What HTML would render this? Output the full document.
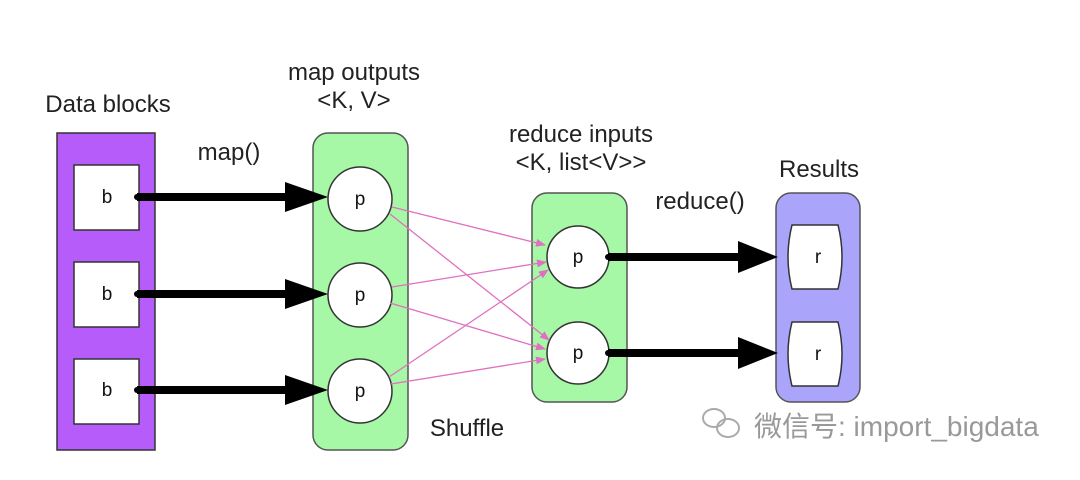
<!DOCTYPE html>
<html><head><style>body{margin:0;background:#fff}</style></head><body>
<svg width="1080" height="475" xmlns="http://www.w3.org/2000/svg" font-family="Liberation Sans, sans-serif">
<defs>
<marker id="pk" markerWidth="10" markerHeight="8" refX="9" refY="4" orient="auto" markerUnits="userSpaceOnUse"><path d="M0,0 L10,4 L0,8z" fill="#e070c0"/></marker>
</defs>
<rect x="57" y="133" width="98" height="317" fill="#b65cfb" stroke="#333" stroke-width="1.5"/>
<g fill="#fff" stroke="#333" stroke-width="1.5">
<rect x="74" y="165" width="65" height="65"/><rect x="74" y="262" width="65" height="65"/><rect x="74" y="359" width="65" height="65"/>
</g>
<rect x="313" y="133" width="95" height="317" rx="15" fill="#a6f7a6" stroke="#555" stroke-width="1.5"/>
<rect x="532" y="193" width="95" height="209" rx="15" fill="#a6f7a6" stroke="#555" stroke-width="1.5"/>
<rect x="776" y="193" width="84" height="209" rx="15" fill="#aaa5fb" stroke="#555" stroke-width="1.5"/>
<g fill="#fff" stroke="#333" stroke-width="1.5">
<circle cx="360" cy="199" r="32"/><circle cx="360" cy="295" r="32"/><circle cx="360" cy="391" r="32"/>
<circle cx="578" cy="257" r="31"/><circle cx="578" cy="353" r="31"/>
<path d="M792,225 H838 Q846,257 838,289 H792 Q784,257 792,225z"/>
<path d="M792,322 H838 Q846,354 838,386 H792 Q784,354 792,322z"/>
</g>
<g stroke="#e070c0" stroke-width="1.3" marker-end="url(#pk)">
<line x1="392" y1="207" x2="545" y2="245"/>
<line x1="390" y1="214" x2="549" y2="340"/>
<line x1="392" y1="287" x2="546" y2="262"/>
<line x1="390" y1="303" x2="545" y2="349"/>
<line x1="389" y1="377" x2="548" y2="270"/>
<line x1="391" y1="384" x2="545" y2="359"/>
</g>
<g fill="#000">
<circle cx="137" cy="197" r="3"/><rect x="137" y="193" width="158" height="8"/><path d="M285,182 L328,197 L285,212z"/>
<circle cx="137" cy="294" r="3"/><rect x="137" y="290" width="158" height="8"/><path d="M285,279 L328,294 L285,309z"/>
<circle cx="137" cy="390" r="3"/><rect x="137" y="386" width="158" height="8"/><path d="M285,375 L328,390 L285,405z"/>
<circle cx="608" cy="257" r="3"/><rect x="608" y="253" width="140" height="8"/><path d="M738,241 L778,257 L738,273z"/>
<circle cx="608" cy="353" r="3"/><rect x="608" y="349" width="140" height="8"/><path d="M738,337 L778,353 L738,369z"/>
</g>
<g font-size="19" fill="#111" text-anchor="middle">
<text x="107" y="203">b</text><text x="107" y="300">b</text><text x="107" y="396">b</text>
<text x="360" y="205">p</text><text x="360" y="301">p</text><text x="360" y="397">p</text>
<text x="578" y="263">p</text><text x="578" y="359">p</text>
<text x="818" y="263">r</text><text x="818" y="360">r</text>
</g>
<g font-size="24" fill="#222" text-anchor="middle">
<text x="108" y="112">Data blocks</text>
<text x="354" y="80">map outputs</text>
<text x="354" y="108">&lt;K, V&gt;</text>
<text x="229" y="160">map()</text>
<text x="581" y="142">reduce inputs</text>
<text x="581" y="170">&lt;K, list&lt;V&gt;&gt;</text>
<text x="819" y="177">Results</text>
<text x="700" y="209">reduce()</text>
<text x="467" y="436">Shuffle</text>
</g>
<g fill="none" stroke="#aaa" stroke-width="2">
<ellipse cx="714" cy="418" rx="11" ry="9"/><ellipse cx="728" cy="428" rx="11" ry="9"/>
</g>
<text x="754" y="436" font-size="28" fill="#999" font-family="Liberation Sans, Noto Sans CJK SC, sans-serif">微信号: import_bigdata</text>
</svg>
</body></html>
